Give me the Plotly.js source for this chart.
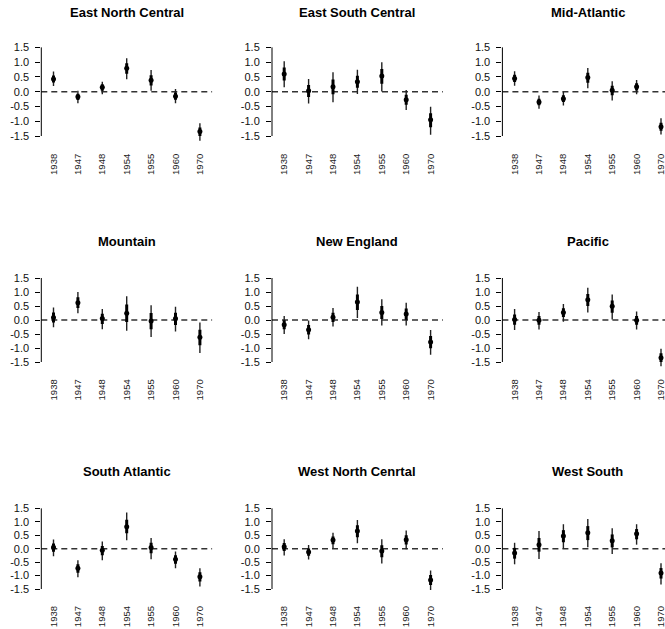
<!DOCTYPE html>
<html>
<head>
<meta charset="utf-8">
<script src="https://cdn.plot.ly/plotly-3.0.1.min.js"></script>
<style>
  html, body { margin: 0; padding: 0; overflow: hidden; background: #fff; }
  #chart { width: 665px; height: 629px; }
</style>
</head>
<body>
<div id="chart"></div>
<script>
// ---- Data ----
const years = ['1938', '1947', '1948', '1954', '1955', '1960', '1970'];
const regionTitles = ['East North Central', 'East South Central', 'Mid-Atlantic',
                      'Mountain', 'New England', 'Pacific',
                      'South Atlantic', 'West North Cenrtal', 'West South'];

// estimate, outer interval (low/high), inner interval (low/high)
const est_ENC = [0.43, -0.17, 0.15, 0.79, 0.39, -0.15, -1.35];
const hiOut_ENC = [0.68, 0.03, 0.34, 1.13, 0.73, 0.09, -1.07];
const loOut_ENC = [0.19, -0.39, -0.09, 0.42, 0.03, -0.39, -1.66];
const hiIn_ENC = [0.55, -0.07, 0.25, 0.96, 0.56, -0.03, -1.21];
const loIn_ENC = [0.31, -0.28, 0.03, 0.61, 0.21, -0.27, -1.50];

const est_ESC = [0.60, 0.03, 0.17, 0.34, 0.53, -0.27, -0.95];
const hiOut_ESC = [1.03, 0.43, 0.66, 0.74, 1.00, 0.06, -0.51];
const loOut_ESC = [0.15, -0.40, -0.36, -0.08, 0.01, -0.62, -1.46];
const hiIn_ESC = [0.82, 0.23, 0.41, 0.54, 0.77, -0.10, -0.73];
const loIn_ESC = [0.38, -0.18, -0.09, 0.13, 0.27, -0.44, -1.20];

const est_MA = [0.45, -0.35, -0.24, 0.48, 0.05, 0.17, -1.19];
const hiOut_MA = [0.69, -0.13, 0.00, 0.80, 0.35, 0.40, -0.90];
const loOut_MA = [0.20, -0.58, -0.47, 0.12, -0.30, -0.09, -1.45];
const hiIn_MA = [0.57, -0.24, -0.12, 0.64, 0.20, 0.29, -1.05];
const loIn_MA = [0.33, -0.46, -0.35, 0.30, -0.12, 0.04, -1.32];

const est_MTN = [0.09, 0.62, 0.05, 0.24, -0.04, 0.05, -0.62];
const hiOut_MTN = [0.45, 1.00, 0.39, 0.85, 0.53, 0.47, -0.09];
const loOut_MTN = [-0.26, 0.24, -0.33, -0.38, -0.61, -0.41, -1.18];
const hiIn_MTN = [0.27, 0.81, 0.22, 0.55, 0.25, 0.26, -0.35];
const loIn_MTN = [-0.09, 0.43, -0.14, -0.07, -0.33, -0.18, -0.90];

const est_NE = [-0.17, -0.35, 0.10, 0.64, 0.27, 0.21, -0.79];
const hiOut_NE = [0.14, -0.02, 0.43, 1.19, 0.74, 0.62, -0.36];
const loOut_NE = [-0.50, -0.69, -0.23, 0.07, -0.20, -0.20, -1.24];
const hiIn_NE = [-0.01, -0.18, 0.26, 0.91, 0.50, 0.41, -0.57];
const loIn_NE = [-0.33, -0.52, -0.07, 0.36, 0.04, 0.01, -1.01];

const est_PAC = [0.02, -0.01, 0.27, 0.72, 0.49, -0.01, -1.35];
const hiOut_PAC = [0.39, 0.29, 0.57, 1.15, 0.91, 0.30, -1.03];
const loOut_PAC = [-0.36, -0.34, -0.06, 0.27, 0.02, -0.34, -1.65];
const hiIn_PAC = [0.20, 0.14, 0.42, 0.93, 0.70, 0.14, -1.19];
const loIn_PAC = [-0.17, -0.17, 0.11, 0.50, 0.26, -0.17, -1.50];

const est_SA = [0.05, -0.73, -0.06, 0.82, 0.04, -0.39, -1.04];
const hiOut_SA = [0.34, -0.43, 0.27, 1.35, 0.40, -0.10, -0.73];
const loOut_SA = [-0.28, -1.06, -0.43, 0.31, -0.39, -0.73, -1.41];
const hiIn_SA = [0.19, -0.58, 0.10, 1.08, 0.22, -0.24, -0.88];
const loIn_SA = [-0.11, -0.89, -0.24, 0.57, -0.17, -0.56, -1.22];

const est_WNC = [0.07, -0.12, 0.32, 0.66, -0.09, 0.33, -1.16];
const hiOut_WNC = [0.35, 0.14, 0.59, 1.07, 0.35, 0.68, -0.81];
const loOut_WNC = [-0.25, -0.40, 0.01, 0.20, -0.55, -0.02, -1.54];
const hiIn_WNC = [0.21, 0.01, 0.45, 0.87, 0.13, 0.50, -0.98];
const loIn_WNC = [-0.09, -0.26, 0.17, 0.43, -0.32, 0.16, -1.35];

const est_WS = [-0.16, 0.15, 0.47, 0.59, 0.30, 0.56, -0.90];
const hiOut_WS = [0.22, 0.66, 0.91, 1.10, 0.76, 0.91, -0.54];
const loOut_WS = [-0.58, -0.38, 0.00, 0.05, -0.20, 0.15, -1.33];
const hiIn_WS = [0.03, 0.40, 0.69, 0.84, 0.53, 0.73, -0.72];
const loIn_WS = [-0.37, -0.11, 0.24, 0.32, 0.05, 0.35, -1.11];

const yTicks = [-1.5, -1.0, -0.5, 0.0, 0.5, 1.0, 1.5];
const yTickText = ['-1.5', '-1.0', '-0.5', '0.0', '0.5', '1.0', '1.5'];

const panels = [
  [est_ENC, loOut_ENC, hiOut_ENC, loIn_ENC, hiIn_ENC],
  [est_ESC, loOut_ESC, hiOut_ESC, loIn_ESC, hiIn_ESC],
  [est_MA, loOut_MA, hiOut_MA, loIn_MA, hiIn_MA],
  [est_MTN, loOut_MTN, hiOut_MTN, loIn_MTN, hiIn_MTN],
  [est_NE, loOut_NE, hiOut_NE, loIn_NE, hiIn_NE],
  [est_PAC, loOut_PAC, hiOut_PAC, loIn_PAC, hiIn_PAC],
  [est_SA, loOut_SA, hiOut_SA, loIn_SA, hiIn_SA],
  [est_WNC, loOut_WNC, hiOut_WNC, loIn_WNC, hiIn_WNC],
  [est_WS, loOut_WS, hiOut_WS, loIn_WS, hiIn_WS]
];

// ---- Layout geometry ----
const W = 665, H = 629;
const colDomains = [[41.3, 212.1], [272.0, 442.8], [502.4, 665]];
const colRanges = [[-0.5, 6.5], [-0.5, 6.5], [-0.5, 6.164]];
const rowDomains = [[38.5, 144.9], [269.6, 370.4], [500.3, 597.1]]; // px from top
const titleY = [12, 241.5, 471.7];
const FONT = 'Liberation Sans, Arial, Helvetica, sans-serif';
const NARROW = 'Liberation Sans Narrow, Arial Narrow, Liberation Sans, sans-serif';

const traces = [];
const layout = {
  width: W, height: H,
  margin: {l: 0, r: 0, t: 0, b: 0},
  paper_bgcolor: '#fff', plot_bgcolor: '#fff',
  showlegend: false,
  font: {family: FONT, color: '#000'},
  shapes: [], annotations: []
};

const diff = (a, b) => a.map((v, i) => v - b[i]);

panels.forEach((p, k) => {
  const row = Math.floor(k / 3), col = k % 3;
  const suf = k === 0 ? '' : String(k + 1);
  const xa = 'x' + suf, ya = 'y' + suf;
  const [est, loO, hiO, loI, hiI] = p;

  traces.push({
    type: 'scatter', mode: 'markers', x: years, y: est, xaxis: xa, yaxis: ya,
    marker: {size: 1, color: 'rgba(0,0,0,0)'},
    error_y: {type: 'data', symmetric: false, array: diff(hiO, est), arrayminus: diff(est, loO),
              thickness: 1.4, width: 0, color: '#222'},
    hoverinfo: 'skip', cliponaxis: false
  });
  traces.push({
    type: 'scatter', mode: 'markers', x: years, y: est, xaxis: xa, yaxis: ya,
    marker: {size: 5, color: '#000'},
    error_y: {type: 'data', symmetric: false, array: diff(hiI, est), arrayminus: diff(est, loI),
              thickness: 3, width: 0, color: '#000'},
    cliponaxis: false
  });

  const d = rowDomains[row];
  layout['xaxis' + suf] = {
    domain: [colDomains[col][0] / W, colDomains[col][1] / W],
    anchor: ya, type: 'category', range: colRanges[col],
    showgrid: false, zeroline: false, showline: false,
    ticks: '', tickangle: -90, ticklabelstandoff: 6,
    tickfont: {size: 9.5, family: NARROW, color: '#222'}
  };
  layout['yaxis' + suf] = {
    domain: [1 - d[1] / H, 1 - d[0] / H],
    anchor: xa, range: [-1.8, 1.8],
    showgrid: false, zeroline: false, showline: false,
    tickmode: 'array', tickvals: yTicks, ticktext: yTickText,
    ticks: 'outside', ticklen: 5, tickwidth: 1, tickcolor: '#000',
    ticklabelstandoff: 4,
    tickfont: {size: 11, family: FONT, color: '#111'}
  };
  // y-axis line spanning only the tick range
  layout.shapes.push({type: 'line', xref: xa + ' domain', yref: ya, x0: 0, x1: 0,
                      y0: -1.5, y1: 1.5, line: {color: '#000', width: 1}});
  // dashed zero line
  layout.shapes.push({type: 'line', xref: xa + ' domain', yref: ya, x0: 0, x1: 1,
                      y0: 0, y1: 0, layer: 'below', line: {color: '#333', width: 1.5, dash: '6px,4px'}});
  // panel title
  const cx = (colDomains[col][0] + colDomains[col][0] + 170.8) / 2;
  layout.annotations.push({
    xref: 'paper', yref: 'paper', x: cx / W, y: 1 - titleY[row] / H,
    xanchor: 'center', yanchor: 'middle', showarrow: false,
    text: '<b>' + regionTitles[k] + '</b>',
    font: {size: 13, family: FONT, color: '#000'}
  });
});

Plotly.newPlot('chart', traces, layout, {staticPlot: true, displayModeBar: false});
</script>
</body>
</html>
